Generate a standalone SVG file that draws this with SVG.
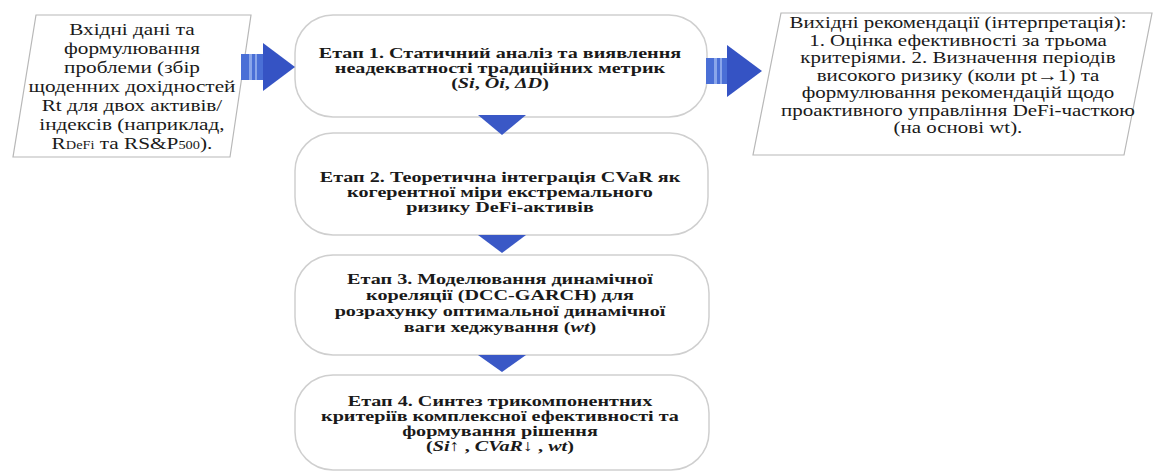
<svg xmlns="http://www.w3.org/2000/svg" width="1154" height="474" viewBox="0 0 1154 474">
<defs>
<style>
.bg{fill:#ffffff}
.para{fill:#ffffff;stroke:#b8b8b8;stroke-width:1.2}
.stage{fill:#ffffff;stroke:#cfcfcf;stroke-width:1.5}
text{font-family:'Liberation Serif','Times New Roman',serif;fill:#1a1a1a;text-anchor:middle}
.n{font-size:17px}
.r{font-size:16.5px}
.b{font-size:15.5px;font-weight:bold}
.i{font-style:italic}
.sm{font-size:11.5px}
.head{fill:#3553c4}
.shaft{fill:#4a6fd6}
.stripe{fill:#8aa6ea}
.tri{fill:#3a58c6}
</style>
</defs>
<rect class="bg" x="0" y="0" width="1154" height="474"/>

<g id="input">
<polygon class="para" points="36,15 251,15 230,157 13,157"/>
<g transform="matrix(1.25,0,0,1,-33,0)">
<text class="n" x="132" y="35">Вхідні дані та</text>
<text class="n" x="132" y="54">формулювання</text>
<text class="n" x="132" y="73">проблеми (збір</text>
<text class="n" x="132" y="92">щоденних дохідностей</text>
<text class="n" x="132" y="111">Rt для двох активів/</text>
<text class="n" x="132" y="130">індексів (наприклад,</text>
<text class="n" x="132" y="149">R<tspan class="sm">DeFi</tspan> та RS&amp;P<tspan class="sm">500</tspan>).</text>
</g>
</g>

<g id="stage1">
<rect class="stage" x="295" y="15" width="412" height="102" rx="38" ry="38"/>
<g transform="matrix(1.3,0,0,1,-150,0)">
<text class="b" x="500" y="58">Етап 1. Статичний аналіз та виявлення</text>
<text class="b" x="500" y="73">неадекватності традиційних метрик</text>
<text class="b" x="500" y="88">(<tspan class="i">Si</tspan>, <tspan class="i">Ōi</tspan>, <tspan class="i">ΔD</tspan>)</text>
</g>
</g>

<g id="stage2">
<rect class="stage" x="295" y="133" width="413" height="102" rx="38" ry="38"/>
<g transform="matrix(1.3,0,0,1,-150,0)">
<text class="b" x="500" y="182">Етап 2. Теоретична інтеграція CVaR як</text>
<text class="b" x="500" y="197">когерентної міри екстремального</text>
<text class="b" x="500" y="212">ризику DeFi-активів</text>
</g>
</g>

<g id="stage3">
<rect class="stage" x="295" y="255" width="414" height="100" rx="38" ry="38"/>
<g transform="matrix(1.3,0,0,1,-150,0)">
<text class="b" x="500" y="284">Етап 3. Моделювання динамічної</text>
<text class="b" x="500" y="300">кореляції (DCC-GARCH) для</text>
<text class="b" x="500" y="316">розрахунку оптимальної динамічної</text>
<text class="b" x="500" y="332">ваги хеджування (<tspan class="i">wt</tspan>)</text>
</g>
</g>

<g id="stage4">
<rect class="stage" x="295" y="375" width="414" height="95" rx="38" ry="38"/>
<g transform="matrix(1.3,0,0,1,-150,0)">
<text class="b" x="500" y="406">Етап 4. Синтез трикомпонентних</text>
<text class="b" x="500" y="421">критеріїв комплексної ефективності та</text>
<text class="b" x="500" y="436">формування рішення</text>
<text class="b" x="500" y="451">(<tspan class="i">Si</tspan>↑ , <tspan class="i">CVaR</tspan>↓ , <tspan class="i">wt</tspan>)</text>
</g>
</g>

<g id="output">
<polygon class="para" points="781,13 1152,13 1124,155 753,155"/>
<g transform="matrix(1.27,0,0,1,-258.66,0)">
<text class="r" x="958" y="28">Вихідні рекомендації (інтерпретація):</text>
<text class="r" x="958" y="46">1. Оцінка ефективності за трьома</text>
<text class="r" x="958" y="63">критеріями. 2. Визначення періодів</text>
<text class="r" x="958" y="81">високого ризику (коли pt→1) та</text>
<text class="r" x="958" y="98">формулювання рекомендацій щодо</text>
<text class="r" x="958" y="116">проактивного управління DeFi-часткою</text>
<text class="r" x="958" y="133">(на основі wt).</text>
</g>
</g>

<g id="connectors">
<g id="arrow-in">
<rect class="shaft" x="241" y="54" width="24" height="26"/>
<rect class="stripe" x="249" y="54" width="3" height="26"/>
<rect class="stripe" x="255" y="54" width="2" height="26"/>
<polygon class="head" points="263,43 295,67 263,91"/>
</g>
<g id="arrow-out">
<rect class="shaft" x="706" y="58" width="23" height="26"/>
<rect class="stripe" x="714" y="58" width="3" height="26"/>
<rect class="stripe" x="720" y="58" width="2" height="26"/>
<polygon class="head" points="727,45 762,71 727,97"/>
</g>
<polygon class="tri" points="478,115 526,115 502,135"/>
<polygon class="tri" points="478,235 526,235 502,253"/>
<polygon class="tri" points="478,355 526,355 502,372"/>
</g>
</svg>
